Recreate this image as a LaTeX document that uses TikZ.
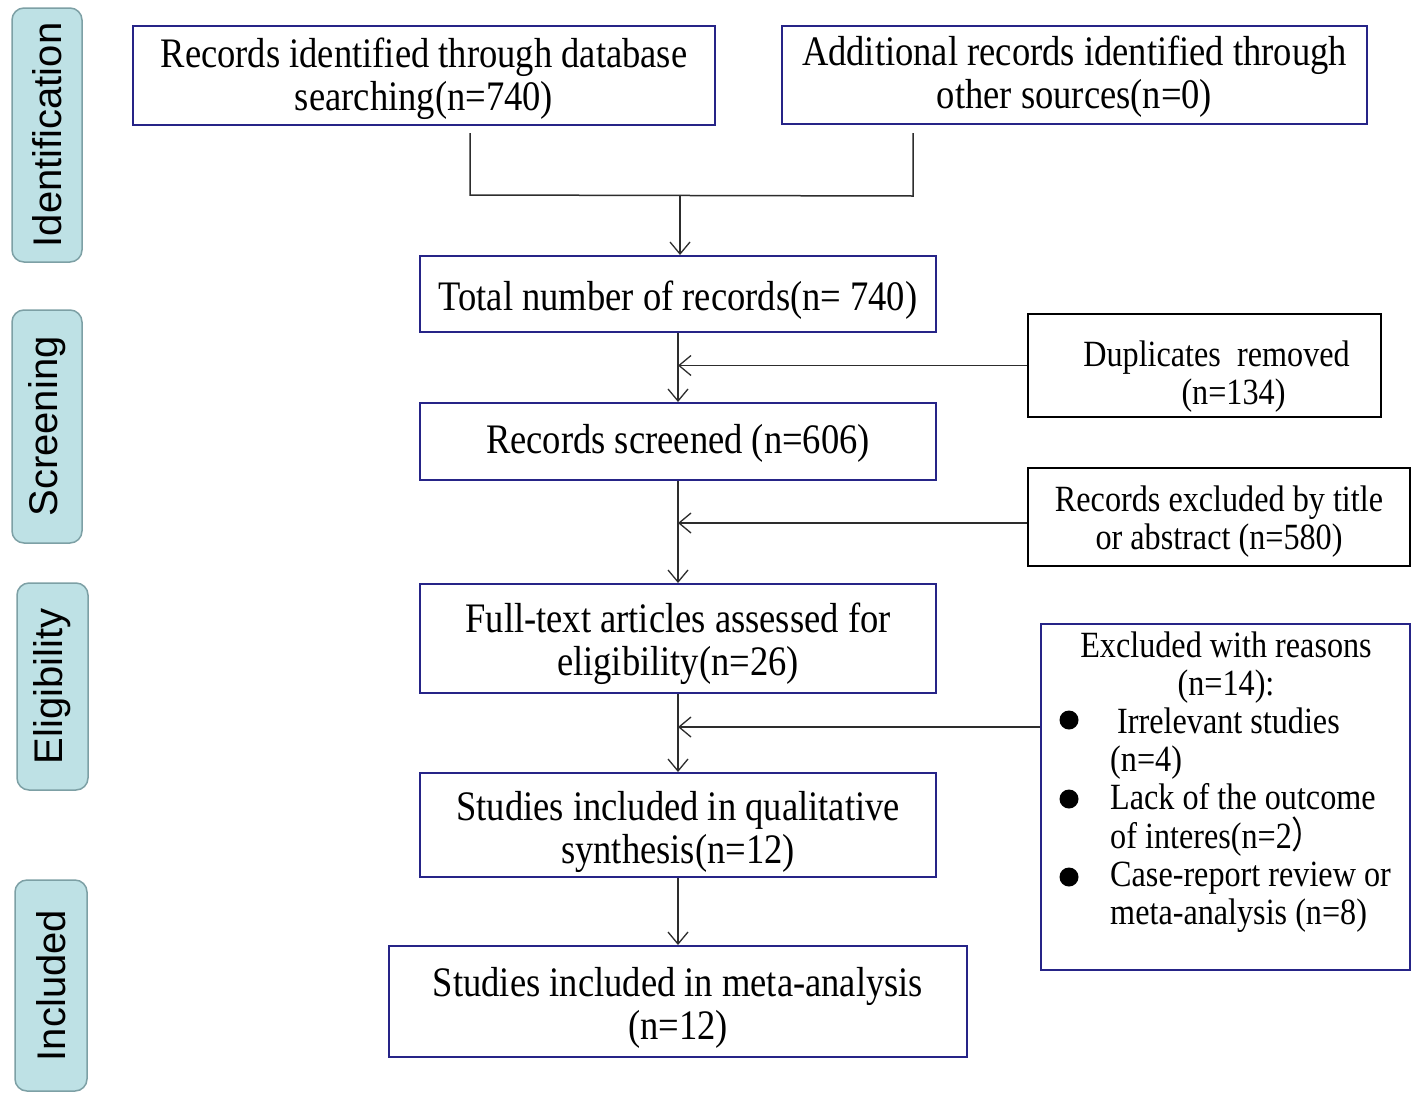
\documentclass[tikz,border=0pt]{standalone}
\usepackage{fontspec}
\setmainfont{Liberation Serif}[FakeStretch=0.87]
\newfontfamily\tabfont{Liberation Sans}
\newfontfamily\cjk{Noto Sans CJK SC}[FakeStretch=0.87]
\usetikzlibrary{arrows.meta}
\definecolor{navy}{RGB}{38,36,135}
\definecolor{tabfill}{RGB}{190,225,229}
\definecolor{tabborder}{RGB}{125,160,165}
\definecolor{lineg}{RGB}{45,45,45}
\newcommand{\mainsz}{\fontsize{42}{43}\selectfont}
\newcommand{\sidesz}{\fontsize{37}{38.5}\selectfont}
\newcommand{\reasz}{\fontsize{37}{38.1}\selectfont}
\newcommand{\tl}[1]{\rule{0pt}{#1pt}}
\newcommand{\bl}{\rule[-12pt]{0pt}{12pt}}
\begin{document}
\begin{tikzpicture}[x=1pt,y=-1pt,
  mainbox/.style={draw=navy, line width=2pt, inner sep=0pt, align=center, font=\mainsz},
  sidebox/.style={draw=black, line width=2pt, inner sep=0pt, align=center, font=\sidesz},
  sidetext/.style={inner sep=0pt, font=\reasz},
  tabbox/.style={draw=tabborder, fill=tabfill, rounded corners=12pt, line width=1.5pt, inner sep=0pt, rotate=90, font=\tabfont\fontsize{40}{48}\selectfont},
  bulletdot/.style={circle, fill=black, inner sep=0pt, minimum size=19pt},
  conn/.style={draw=lineg, line width=1.5pt},
  arr/.style={conn, -{Straight Barb[length=12pt,width=20pt,line width=1.3pt]}}
]
\useasboundingbox (0,0) rectangle (1418,1103);
\fill[white] (0,0) rectangle (1418,1103);

% phase tabs
\node[tabbox, minimum width=254pt, minimum height=70pt] (t1) at (47,135) {Identification};
\node[tabbox, minimum width=233pt, minimum height=70pt] (t2) at (47,426.5) {Screening};
\node[tabbox, minimum width=207pt, minimum height=71pt] (t3) at (52.5,686.5) {Eligibility};
\node[tabbox, minimum width=211pt, minimum height=72pt] (t4) at (51,985.5) {Included};

% boxes
\node[mainbox, minimum width=582pt, minimum height=99pt] (A) at (424,75.5) {\tl{38}Records identified through database\\searching(n=740)\bl};
\node[mainbox, minimum width=585pt, minimum height=98pt] (B) at (1074.5,75) {\tl{35}Additional records identified through\\other sources(n=0)\bl};
\node[mainbox, minimum width=516pt, minimum height=76pt] (C) at (678,294) {\tl{45}Total number of records(n= 740)\bl};
\node[sidebox, minimum width=353pt, minimum height=97pt] (D) at (1204.5,365.5) {\tl{52}\hspace*{24pt}Duplicates\ \ removed\\\hspace*{58pt}(n=134)\bl};
\node[mainbox, minimum width=516pt, minimum height=77pt] (E) at (678,441.5) {\tl{36}Records screened (n=606)\bl};
\node[sidebox, minimum width=382pt, minimum height=98pt] (F) at (1219,517) {\tl{39}Records excluded by title\\or abstract (n=580)\bl};
\node[mainbox, minimum width=516pt, minimum height=109pt] (G) at (678,638.5) {\tl{43}Full-text articles assessed for\\eligibility(n=26)\bl};
\node[mainbox, minimum width=369pt, minimum height=346pt] (H) at (1225.5,797) {};
\node[mainbox, minimum width=516pt, minimum height=104pt] (I) at (678,825) {\tl{46}Studies included in qualitative\\synthesis(n=12)\bl};
\node[mainbox, minimum width=578pt, minimum height=111pt] (J) at (678,1001.5) {\tl{44}Studies included in meta-analysis\\(n=12)\bl};

% contents of the reasons box
\node[sidetext, anchor=base] (h1) at (1226,657) {Excluded with reasons};
\node[sidetext, anchor=base] (h2) at (1226,695) {(n=14):};
\node[sidetext, anchor=base west] (h3) at (1117,733) {Irrelevant studies};
\node[sidetext, anchor=base west] (h4) at (1110,771) {(n=4)};
\node[sidetext, anchor=base west] (h5) at (1110,809) {Lack of the outcome};
\node[sidetext, anchor=base west] (h6) at (1110,848) {of interes(n=2{\cjk ）}};
\node[sidetext, anchor=base west] (h7) at (1110,886) {Case-report review or};
\node[sidetext, anchor=base west] (h8) at (1110,924) {meta-analysis (n=8)};
\node[bulletdot] (d1) at (1069,720) {};
\node[bulletdot] (d2) at (1069,799) {};
\node[bulletdot] (d3) at (1069,877) {};

% connectors
\coordinate (ja1) at (470,133);
\coordinate (ja2) at (470,195);
\coordinate (jb1) at (913,133);
\coordinate (jb2) at (913,196);
\coordinate (jm) at (680,196);
\draw[conn] (ja1) -- (ja2) -- (jb2) -- (jb1);
\draw[arr] (jm) -- (jm |- C.north);
\draw[arr] (C) -- (E);
\draw[arr] (D.west) -- (D.west -| C.south);
\draw[arr] (E) -- (G);
\draw[arr] ([yshift=-6pt]F.west) -- ([yshift=-6pt]F.west -| E.south);
\draw[arr] (G) -- (I);
\draw[arr] ([yshift=70pt]H.west) -- ([yshift=70pt]H.west -| G.south);
\draw[arr] (I) -- (J);
\end{tikzpicture}
\end{document}
